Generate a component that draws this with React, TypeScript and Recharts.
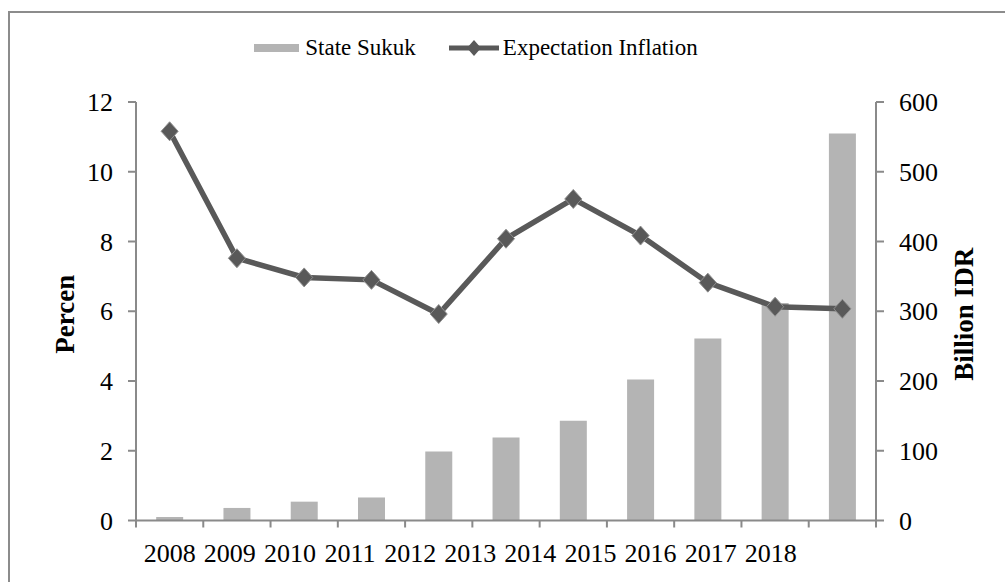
import React from "react";
import { ComposedChart, Bar, Line, XAxis, YAxis, Legend } from "recharts";

const categories = ["2008", "2009", "2010", "2011", "2012", "2013", "2014", "2015", "2016", "2017", "2018"];
const stateSukuk = [5, 18, 27, 33, 99, 119, 143, 202, 261, 312, 555];
const expectationInflation = [11.16, 7.52, 6.97, 6.9, 5.92, 8.08, 9.22, 8.17, 6.82, 6.13, 6.07];
const leftTicks = [0, 2, 4, 6, 8, 10, 12];
const rightTicks = [0, 100, 200, 300, 400, 500, 600];

const data = categories.map((c, i) => ({
  year: c,
  sukuk: stateSukuk[i],
  inflation: expectationInflation[i],
}));

const W = 1005;
const H = 582;
const LEFT_W = 136;
const RIGHT_W = 129;
const PLOT_W = W - LEFT_W - RIGHT_W;
const FONT = "'Liberation Serif', 'Times New Roman', serif";
const AXIS_COLOR = "#8a8a8a";
const BAR_COLOR = "#b4b4b4";
const LINE_COLOR = "#595959";
const LABEL_SHIFT = 7.15;

const XTick = (props: any) => {
  const { x, y, payload, index } = props;
  const band = PLOT_W / categories.length;
  const axisY = y - 8;
  const left = x - band / 2;
  const right = x + band / 2;
  return (
    <g>
      <line x1={left} y1={axisY} x2={left} y2={axisY + 7} stroke={AXIS_COLOR} strokeWidth={2} />
      {index === categories.length - 1 && (
        <line x1={right} y1={axisY} x2={right} y2={axisY + 7} stroke={AXIS_COLOR} strokeWidth={2} />
      )}
      <text
        x={x - index * LABEL_SHIFT}
        y={y + 33}
        textAnchor="middle"
        fontFamily={FONT}
        fontSize={26}
        fill="#000"
      >
        {payload.value}
      </text>
    </g>
  );
};

const Diamond = (props: any) => {
  const { cx, cy, index } = props;
  if (cx == null || cy == null) return null;
  const r = 9.5;
  return (
    <polygon
      key={`d-${index}`}
      points={`${cx},${cy - r} ${cx + r * 0.9},${cy} ${cx},${cy + r} ${cx - r * 0.9},${cy}`}
      fill={LINE_COLOR}
      stroke="#8f8f8f"
      strokeWidth={1}
    />
  );
};

const LegendContent = () => (
  <div
    style={{
      display: "flex",
      alignItems: "center",
      justifyContent: "center",
      fontFamily: FONT,
      fontSize: 23,
      color: "#000",
      whiteSpace: "nowrap",
      paddingLeft: 0,
    }}
  >
    <span style={{ display: "inline-block", width: 45, height: 8, background: BAR_COLOR, marginRight: 6 }} />
    <span style={{ marginRight: 33 }}>State Sukuk</span>
    <svg width={50} height={16} style={{ marginRight: 4 }}>
      <line x1={0} y1={8} x2={50} y2={8} stroke={LINE_COLOR} strokeWidth={5} />
      <polygon points="25,0 32,8 25,16 18,8" fill={LINE_COLOR} />
    </svg>
    <span>Expectation Inflation</span>
  </div>
);

const AxisTitle = (text: string, dx: number) => (props: any) => {
  const vb = props.viewBox || {};
  const x = (vb.x || 0) + dx;
  const y = (vb.y || 0) + (vb.height || 0) / 2 + 3;
  return (
    <text
      x={x}
      y={y}
      transform={`rotate(-90, ${x}, ${y})`}
      textAnchor="middle"
      dominantBaseline="central"
      fontFamily={FONT}
      fontWeight="bold"
      fontSize={27}
      fill="#000"
    >
      {text}
    </text>
  );
};

export default function App() {
  return (
    <div style={{ position: "absolute", left: 0, top: 0, width: W, height: H, overflow: "hidden", background: "#fff" }}>
      <div
        style={{
          position: "absolute",
          left: 8,
          top: 11,
          width: W + 50,
          height: H + 50,
          borderLeft: "2px solid #8c8c8c",
          borderTop: "2px solid #8c8c8c",
        }}
      />
      <div style={{ position: "absolute", left: 0, top: 0 }}>
        <ComposedChart
          width={W}
          height={H}
          data={data}
          margin={{ top: 102, right: 0, bottom: 21.5, left: 0 }}
          barCategoryGap="30%"
        >
          <XAxis
            dataKey="year"
            height={40}
            axisLine={{ stroke: AXIS_COLOR, strokeWidth: 2 }}
            tickLine={false}
            tickSize={6}
            tickMargin={2}
            tick={<XTick />}
            interval={0}
          />
          <YAxis
            yAxisId="left"
            orientation="left"
            width={LEFT_W}
            domain={[0, 12]}
            ticks={leftTicks}
            axisLine={{ stroke: AXIS_COLOR, strokeWidth: 2 }}
            tickLine={{ stroke: AXIS_COLOR, strokeWidth: 2 }}
            tickSize={8}
            tickMargin={15}
            tick={{ fontFamily: FONT, fontSize: 26, fill: "#000" }}
            label={{ content: AxisTitle("Percen", 65) }}
          />
          <YAxis
            yAxisId="right"
            orientation="right"
            width={RIGHT_W}
            domain={[0, 600]}
            ticks={rightTicks}
            axisLine={{ stroke: AXIS_COLOR, strokeWidth: 2 }}
            tickLine={{ stroke: AXIS_COLOR, strokeWidth: 2 }}
            tickSize={8}
            tickMargin={15}
            tick={{ fontFamily: FONT, fontSize: 26, fill: "#000" }}
            label={{ content: AxisTitle("Billion IDR", 88) }}
          />
          <Legend
            layout="horizontal"
            verticalAlign="middle"
            align="center"
            content={<LegendContent />}
            wrapperStyle={{ top: 35, left: 1, width: 950 }}
          />
          <Bar
            yAxisId="right"
            dataKey="sukuk"
            name="State Sukuk"
            fill={BAR_COLOR}
            isAnimationActive={false}
          />
          <Line
            yAxisId="left"
            dataKey="inflation"
            name="Expectation Inflation"
            type="linear"
            stroke={LINE_COLOR}
            strokeWidth={5.5}
            dot={<Diamond />}
            activeDot={false}
            isAnimationActive={false}
          />
        </ComposedChart>
      </div>
    </div>
  );
}
